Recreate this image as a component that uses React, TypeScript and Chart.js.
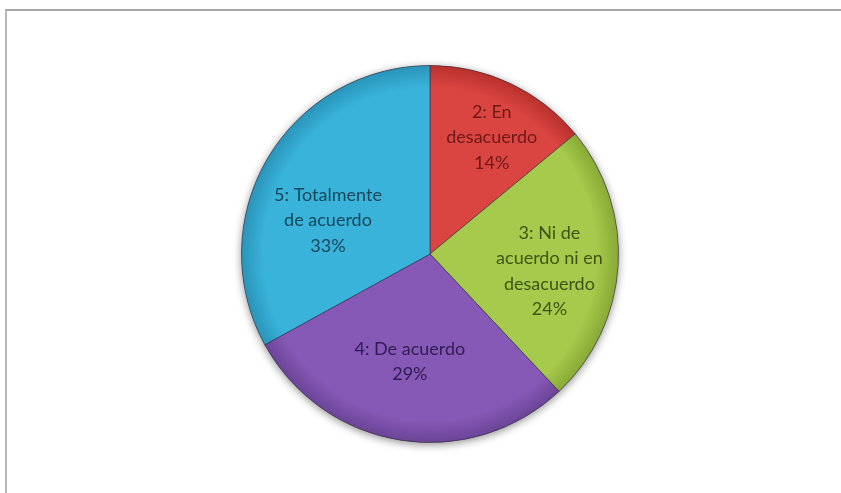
import React, { useEffect, useRef } from "react";
import { Chart, registerables } from "chart.js";

Chart.register(...registerables);

const categories: string[][] = [
  ["2: En", "desacuerdo"],
  ["3: Ni de", "acuerdo ni en", "desacuerdo"],
  ["4: De acuerdo"],
  ["5: Totalmente", "de acuerdo"],
];
const percentages: number[] = [14, 24, 29, 33];

const sliceColors = ["#da4541", "#a6ca4b", "#8759b6", "#39b3da"];
const sliceEdge = ["#b8302d", "#87a836", "#6a4497", "#2a93b8"];
const textColors = ["#6e1a18", "#3f5414", "#2f1c52", "#17475a"];
// label placement: [fraction of radius, angle offset in degrees from slice mid]
const labelPlace: [number, number][] = [
  [0.7, 2.7],
  [0.64, 4.5],
  [0.58, 1.6],
  [0.57, -12.3],
];

function makeFill(chart: any, i: number) {
  const area = chart.chartArea;
  if (!area) return sliceColors[i];
  const cx = (area.left + area.right) / 2;
  const cy = (area.top + area.bottom) / 2;
  const r = Math.min(area.right - area.left, area.bottom - area.top) / 2;
  const g = chart.ctx.createRadialGradient(cx, cy, 0, cx, cy, r);
  g.addColorStop(0, sliceColors[i]);
  g.addColorStop(0.88, sliceColors[i]);
  g.addColorStop(1, sliceEdge[i]);
  return g;
}

const shadowPlugin = {
  id: "pieShadow",
  beforeDatasetsDraw(chart: any) {
    const arc = chart.getDatasetMeta(0).data[0];
    if (!arc) return;
    const { x, y, outerRadius } = arc.getProps(["x", "y", "outerRadius"], true);
    const ctx = chart.ctx;
    ctx.save();
    ctx.beginPath();
    ctx.arc(x, y, outerRadius, 0, Math.PI * 2);
    ctx.shadowColor = "rgba(0,0,0,0.45)";
    ctx.shadowBlur = 8;
    ctx.shadowOffsetY = 2;
    ctx.fillStyle = "#666";
    ctx.fill();
    ctx.restore();
  },
};

const labelPlugin = {
  id: "pieLabels",
  afterDatasetsDraw(chart: any) {
    const meta = chart.getDatasetMeta(0);
    const ctx = chart.ctx;
    ctx.save();
    ctx.font = '18px "Lato", sans-serif';
    ctx.textAlign = "center";
    ctx.textBaseline = "middle";
    meta.data.forEach((arc: any, i: number) => {
      const { x, y, startAngle, endAngle, outerRadius } = arc.getProps(
        ["x", "y", "startAngle", "endAngle", "outerRadius"],
        true
      );
      const [frac, off] = labelPlace[i];
      const mid = (startAngle + endAngle) / 2 + (off * Math.PI) / 180;
      const r = outerRadius * frac;
      const lx = x + Math.cos(mid) * r;
      const ly = y + Math.sin(mid) * r;
      const lines = [...categories[i], percentages[i] + "%"];
      const lh = 25.5;
      const top = ly - ((lines.length - 1) * lh) / 2;
      ctx.fillStyle = textColors[i];
      lines.forEach((t, k) => ctx.fillText(t, lx, top + k * lh));
    });
    ctx.restore();
  },
};

export default function App() {
  const ref = useRef<HTMLCanvasElement>(null);
  useEffect(() => {
    document.body.style.margin = "0";
    const chart = new Chart(ref.current!, {
      type: "pie",
      data: {
        labels: categories.map((c) => c.join(" ")),
        datasets: [
          {
            data: percentages,
            backgroundColor: (ctx: any) => makeFill(ctx.chart, ctx.dataIndex),
            borderColor: "rgba(50,40,60,0.55)",
            borderWidth: 1,
          },
        ],
      },
      options: {
        animation: false,
        responsive: false,
        maintainAspectRatio: false,
        layout: { padding: { left: 241, right: 222, top: 65, bottom: 50 } },
        plugins: {
          legend: { display: false },
          tooltip: { enabled: false },
        },
      },
      plugins: [shadowPlugin, labelPlugin],
    });
    return () => chart.destroy();
  }, []);
  return (
    <div style={{ position: "relative", width: 841, height: 493, background: "#fff", overflow: "hidden" }}>
      <div
        style={{
          position: "absolute",
          left: 5,
          top: 9,
          right: -2,
          bottom: -2,
          borderTop: "2px solid #a8a8a8",
          borderLeft: "2px solid #b8b8b8",
        }}
      />
      <canvas ref={ref} width={841} height={493} style={{ position: "absolute", left: 0, top: 0 }} />
    </div>
  );
}
